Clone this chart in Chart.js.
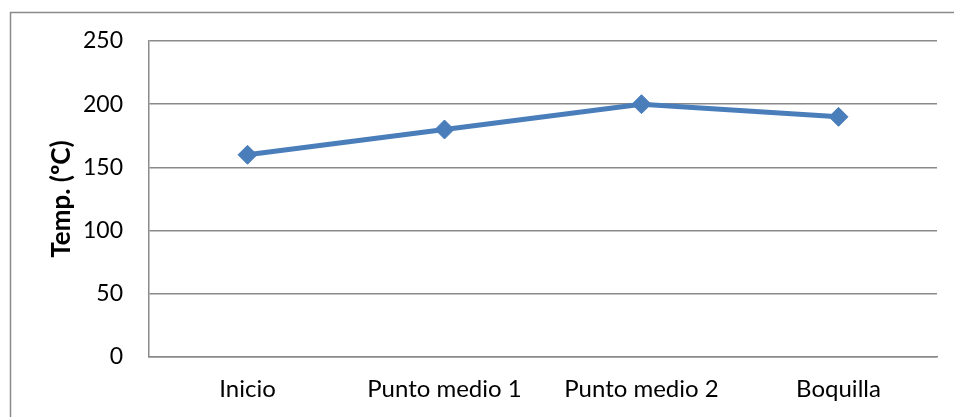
<!DOCTYPE html>
<html>
<head>
<meta charset="utf-8">
<script src="https://cdn.jsdelivr.net/npm/chart.js@4"></script>
<style>
    html, body { margin: 0; padding: 0; background: #fff; }
    #wrap { width: 954px; height: 417px; }
</style>
</head>
<body>
<div id="wrap"><canvas id="chart-temp"></canvas></div>
<script>
const puntos = ['Inicio', 'Punto medio 1', 'Punto medio 2', 'Boquilla'];
const temperaturas = [160, 180, 200, 190];
const ticksY = [0, 50, 100, 150, 200, 250];

const gris = '#8a8a8a';
const azul = '#4a7ebb';

// marco exterior del gráfico (solo lados superior e izquierdo quedan visibles)
const marco = {
    id: 'marco',
    beforeDraw(chart) {
        const ctx = chart.ctx;
        ctx.save();
        ctx.strokeStyle = gris;
        ctx.lineWidth = 1.5;
        ctx.beginPath();
        ctx.moveTo(10.5, chart.height);
        ctx.lineTo(10.5, 12.5);
        ctx.lineTo(chart.width, 12.5);
        ctx.stroke();
        ctx.restore();
    }
};

Chart.defaults.font.family = 'Lato, "Noto Sans", sans-serif';
Chart.defaults.color = '#000';

new Chart(document.getElementById('chart-temp'), {
    type: 'line',
    data: {
        labels: puntos,
        datasets: [{
            label: 'Temp. (ºC)',
            data: temperaturas,
            borderColor: azul,
            backgroundColor: azul,
            borderWidth: 5,
            tension: 0,
            pointStyle: 'rectRot',
            pointRadius: 9.5,
            pointBorderWidth: 1,
            pointBackgroundColor: azul,
            pointBorderColor: azul
        }]
    },
    options: {
        responsive: true,
        maintainAspectRatio: false,
        animation: false,
        layout: { padding: { left: 42, top: 41, right: 17, bottom: 0 } },
        plugins: {
            legend: { display: false },
            tooltip: { enabled: false }
        },
        scales: {
            x: {
                offset: true,
                grid: { display: false, drawTicks: false },
                border: { color: gris, width: 1.5 },
                ticks: { font: { size: 24 }, padding: 18, maxRotation: 0 },
                afterFit: (scale) => { scale.height = 60; }
            },
            y: {
                min: 0,
                max: 250,
                afterBuildTicks: (scale) => { scale.ticks = ticksY.map(v => ({ value: v })); },
                grid: { color: gris, lineWidth: 1.5, drawTicks: false },
                border: { color: gris, width: 1.5 },
                ticks: { font: { size: 23 }, padding: 26 },
                title: {
                    display: true,
                    text: 'Temp. (ºC)',
                    font: { size: 26, weight: 'bold' },
                    padding: { top: 4, bottom: 4 }
                },
                afterFit: (scale) => { scale.width = 107; }
            }
        }
    },
    plugins: [marco]
});
</script>
</body>
</html>
